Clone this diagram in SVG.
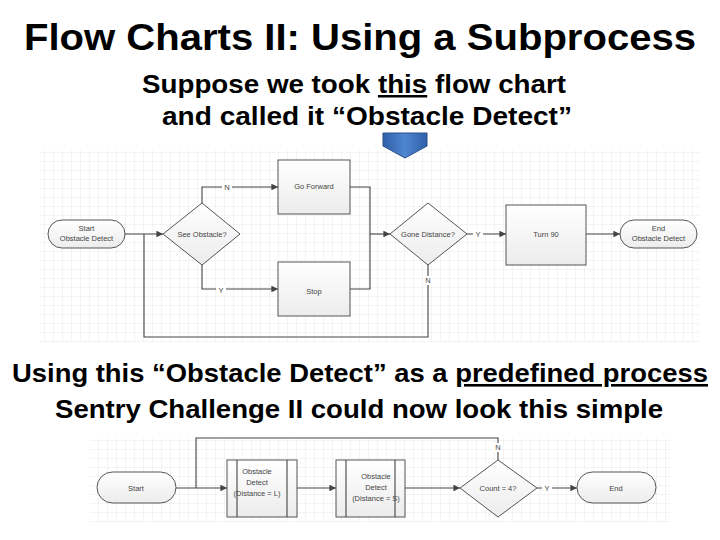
<svg xmlns="http://www.w3.org/2000/svg" width="720" height="540" viewBox="0 0 720 540">
<defs>
<pattern id="grid" width="9" height="9" patternUnits="userSpaceOnUse"><path d="M9 0V9H0" fill="none" stroke="#dcdcdc" stroke-width="0.6"/></pattern>
<pattern id="grid2" width="9" height="9" patternUnits="userSpaceOnUse"><path d="M9 0V9H0" fill="none" stroke="#dcdcdc" stroke-width="0.6"/></pattern>
<linearGradient id="sh" x1="0" y1="0" x2="0" y2="1"><stop offset="0" stop-color="#ffffff"/><stop offset="1" stop-color="#ececec"/></linearGradient>
<linearGradient id="blue" x1="0" y1="0" x2="1" y2="0"><stop offset="0" stop-color="#2f5fa8"/><stop offset="0.5" stop-color="#4f86d0"/><stop offset="1" stop-color="#2f5fa8"/></linearGradient>
<marker id="ar" viewBox="0 0 10 10" refX="10" refY="5" markerWidth="6" markerHeight="6" orient="auto"><path d="M0 0L10 5L0 10z" fill="#444"/></marker>
</defs>
<style>
.t{font-family:"Liberation Sans",Arial,sans-serif;font-weight:bold;fill:#000}
.n{fill:url(#sh);stroke:#555;stroke-width:1}
.l{font-family:"Liberation Sans",Arial,sans-serif;font-size:7.5px;fill:#444;text-anchor:middle}
.c{fill:none;stroke:#444;stroke-width:1.1}
</style>
<rect width="720" height="540" fill="#fff"/>
<text class="t" x="360" y="50" font-size="36" text-anchor="middle" textLength="672" lengthAdjust="spacingAndGlyphs">Flow Charts II: Using a Subprocess</text>
<text class="t" x="142" y="93" font-size="25" textLength="424" lengthAdjust="spacingAndGlyphs">Suppose we took <tspan text-decoration="underline">this</tspan> flow chart</text>
<text class="t" x="162" y="125" font-size="25" textLength="410" lengthAdjust="spacingAndGlyphs">and called it “Obstacle Detect”</text>
<text class="t" x="12" y="382" font-size="26" textLength="696" lengthAdjust="spacingAndGlyphs">Using this “Obstacle Detect” as a <tspan text-decoration="underline">predefined process</tspan></text>
<text class="t" x="55" y="418" font-size="26" textLength="608" lengthAdjust="spacingAndGlyphs">Sentry Challenge II could now look this simple</text>

<rect x="40" y="150" width="660" height="192" fill="url(#grid)"/>
<rect x="90" y="438" width="580" height="84" fill="url(#grid2)"/>

<g id="connectors">
<path class="c" d="M125 234H163" marker-end="url(#ar)"/>
<path class="c" d="M202 203V187H278" marker-end="url(#ar)"/>
<path class="c" d="M202 265V289H278" marker-end="url(#ar)"/>
<path class="c" d="M350 187H370V289H350"/>
<path class="c" d="M370 234H390" marker-end="url(#ar)"/>
<path class="c" d="M467 234H506" marker-end="url(#ar)"/>
<path class="c" d="M586 234H620" marker-end="url(#ar)"/>
<path class="c" d="M428 265V337H144V234"/>
<path class="c" d="M176 488H227" marker-end="url(#ar)"/>
<path class="c" d="M297 488H336" marker-end="url(#ar)"/>
<path class="c" d="M405 488H460" marker-end="url(#ar)"/>
<path class="c" d="M537 488H577" marker-end="url(#ar)"/>
<path class="c" d="M498 460V438H196V488"/>
<rect x="222" y="183" width="10" height="9" fill="#fff"/><text class="l" x="227" y="190">N</text>
<rect x="216" y="286" width="10" height="9" fill="#fff"/><text class="l" x="221" y="293">Y</text>
<rect x="473" y="230" width="10" height="9" fill="#fff"/><text class="l" x="478" y="237">Y</text>
<rect x="423" y="276" width="10" height="9" fill="#fff"/><text class="l" x="428" y="283">N</text>
<rect x="493" y="443" width="10" height="9" fill="#fff"/><text class="l" x="498" y="450">N</text>
<rect x="542" y="484" width="10" height="9" fill="#fff"/><text class="l" x="547" y="491">Y</text>
</g>

<g id="start1"><rect class="n" x="48" y="220" width="77" height="28" rx="14"/><text class="l" x="86.5" y="231">Start</text><text class="l" x="86.5" y="241">Obstacle Detect</text></g>
<g id="seeobstacle"><path class="n" d="M202 203L240 234L202 265L163 234Z"/><text class="l" x="202" y="237">See Obstacle?</text></g>
<g id="goforward"><rect class="n" x="278" y="160" width="72" height="54"/><text class="l" x="314" y="189">Go Forward</text></g>
<g id="stop"><rect class="n" x="278" y="262" width="72" height="54"/><text class="l" x="314" y="294">Stop</text></g>
<g id="gonedistance"><path class="n" d="M428 203L467 234L428 265L390 234Z"/><text class="l" x="428" y="237">Gone Distance?</text></g>
<g id="turn90"><rect class="n" x="506" y="205" width="80" height="60"/><text class="l" x="546" y="237">Turn 90</text></g>
<g id="end1"><rect class="n" x="620" y="220" width="77" height="28" rx="14"/><text class="l" x="658.5" y="231">End</text><text class="l" x="658.5" y="241">Obstacle Detect</text></g>

<g id="start2"><rect class="n" x="97" y="472" width="79" height="31" rx="15.5"/><text class="l" x="136" y="491">Start</text></g>
<g id="od1"><rect class="n" x="227" y="460" width="70" height="57"/><path class="c" d="M237 460V517M287 460V517" stroke="#555"/><text class="l" x="257" y="474">Obstacle</text><text class="l" x="257" y="485">Detect</text><text class="l" x="257" y="496">(Distance = L)</text></g>
<g id="od2"><rect class="n" x="336" y="460" width="69" height="57"/><path class="c" d="M346 460V517M395 460V517" stroke="#555"/><text class="l" x="376" y="479">Obstacle</text><text class="l" x="376" y="490">Detect</text><text class="l" x="376" y="501">(Distance = S)</text></g>
<g id="count"><path class="n" d="M498 460L537 488L498 517L460 488Z"/><text class="l" x="498" y="491">Count = 4?</text></g>
<g id="end2"><rect class="n" x="577" y="472" width="79" height="31" rx="15.5"/><text class="l" x="616" y="491">End</text></g>

<g id="bluearrow"><path d="M383 133H427V146L405 158L383 146Z" fill="url(#blue)" stroke="#2a4f8a" stroke-width="1"/></g>
</svg>
